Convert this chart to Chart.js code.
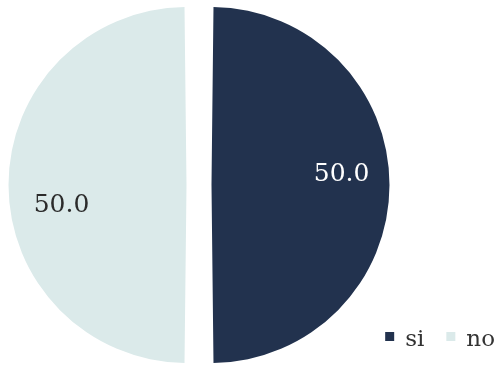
<!DOCTYPE html>
<html>
<head>
<meta charset="utf-8">
<script src="https://cdn.jsdelivr.net/npm/chart.js@4"></script>
<style>
  html, body { margin: 0; padding: 0; background: #ffffff; }
  #wrap { position: relative; width: 496px; height: 369px; }
</style>
</head>
<body>
<div id="wrap"><canvas id="c" width="496" height="369"></canvas></div>
<script>
const categories = ['si', 'no'];
const values = [50.0, 50.0];
const sliceColors = ['#22324e', '#dbeaea'];
const labelColors = ['#ffffff', '#2b2b2b'];

const SERIF = '"DejaVu Serif", "Liberation Serif", serif';
const SLICE_SHIFT = 12.5;   // visual pixel shift of each slice (Chart.js draws offset/4 and grows radius by it)

const valueLabels = {
  id: 'valueLabels',
  afterDatasetsDraw(chart, args, opts) {
    const ctx = chart.ctx;
    const meta = chart.getDatasetMeta(0);
    ctx.save();
    ctx.font = opts.font;
    ctx.textAlign = 'center';
    ctx.textBaseline = 'middle';
    meta.data.forEach((arc, i) => {
      const p = arc.getProps(['x', 'y', 'startAngle', 'endAngle', 'outerRadius'], true);
      const base = (p.startAngle + p.endAngle) / 2;
      const cx = p.x + Math.cos(base) * SLICE_SHIFT;
      const cy = p.y + Math.sin(base) * SLICE_SHIFT;
      const mid = base + opts.angleShift[i] * Math.PI / 180;
      const r = (p.outerRadius + SLICE_SHIFT) * opts.radiusFrac[i];
      ctx.fillStyle = labelColors[i];
      ctx.fillText(values[i].toFixed(1), cx + Math.cos(mid) * r, cy + Math.sin(mid) * r);
    });
    ctx.restore();
  }
};

const cornerLegend = {
  id: 'cornerLegend',
  afterDraw(chart, args, opts) {
    const ctx = chart.ctx;
    ctx.save();
    ctx.font = opts.font;
    ctx.textBaseline = 'alphabetic';
    const widths = categories.map(t => ctx.measureText(t).width);
    let total = 0;
    categories.forEach((t, i) => {
      total += opts.box + opts.boxGap + widths[i];
      if (i < categories.length - 1) total += opts.itemGap;
    });
    let x = opts.right - total;
    categories.forEach((t, i) => {
      ctx.fillStyle = sliceColors[i];
      ctx.fillRect(x, opts.baseline - 14, opts.box, opts.box);
      x += opts.box + opts.boxGap;
      ctx.fillStyle = '#333333';
      ctx.fillText(t, x, opts.baseline);
      x += widths[i] + opts.itemGap;
    });
    ctx.restore();
  }
};

new Chart(document.getElementById('c'), {
  type: 'pie',
  data: {
    labels: categories,
    datasets: [{
      data: values,
      backgroundColor: sliceColors,
      borderWidth: 0,
      offset: SLICE_SHIFT * 4,
      hoverOffset: 0
    }]
  },
  options: {
    responsive: false,
    animation: false,
    devicePixelRatio: 1,
    radius: 178 - SLICE_SHIFT,
    layout: { padding: { left: 0, right: 98, top: 1, bottom: 0 } },
    plugins: {
      legend: { display: false },
      tooltip: { enabled: false },
      valueLabels: {
        font: '25px ' + SERIF,
        angleShift: [-4.4, -9.1],
        radiusFrac: [0.733, 0.711]
      },
      cornerLegend: {
        font: '23px ' + SERIF,
        right: 495,
        baseline: 346,
        box: 9,
        boxGap: 11,
        itemGap: 22
      }
    }
  },
  plugins: [valueLabels, cornerLegend]
});
</script>
</body>
</html>
